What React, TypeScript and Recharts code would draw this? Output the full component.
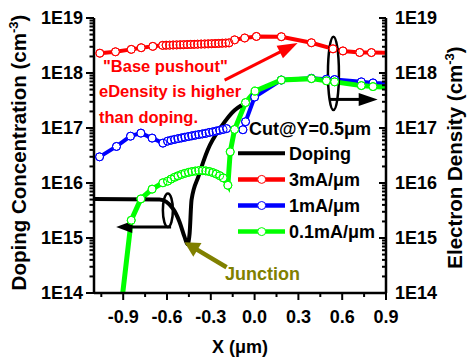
import React from 'react';
import { LineChart, Line, XAxis, YAxis, ReferenceLine, ReferenceDot, Legend } from 'recharts';

const FONT = '"Liberation Sans", Arial, Helvetica, sans-serif';

// ---- axis ticks ----
const xMajor = [-0.9, -0.6, -0.3, 0, 0.3, 0.6, 0.9];
const xMinor = [-1.05, -0.75, -0.45, -0.15, 0.15, 0.45, 0.75];
const xLabels = ['-0.9', '-0.6', '-0.3', '0.0', '0.3', '0.6', '0.9'];
const yDecades = [1e14, 1e15, 1e16, 1e17, 1e18, 1e19];
const yLabels = ['1E14', '1E15', '1E16', '1E17', '1E18', '1E19'];
const yMinorMantissa = [2, 3, 4, 5, 6, 7, 8, 9];

// ---- doping profile along the cut (cm^-3) ----
const xDoping = [-1.1, -0.651, -0.56, -0.514, -0.48, -0.459, -0.445, -0.432, -0.384, -0.322, -0.226, -0.137, -0.089];
const nDoping = [5.1e15, 5.0e15, 3.44e15, 1.96e15, 1.05e15, 7.7e14, 1.22e15, 4.9e15, 1.33e16, 3.95e16, 1.08e17, 2.11e17, 2.6e17];

// ---- electron density at 3 mA/um ----
const x3mA = [
  -1.06, -0.953, -0.845, -0.777, -0.697,
  -0.63, -0.606, -0.582, -0.558, -0.534, -0.51, -0.486, -0.462, -0.438, -0.414,
  -0.39, -0.366, -0.342, -0.318, -0.294, -0.27, -0.246, -0.222, -0.198, -0.175,
  -0.137, -0.068, 0.012, 0.183, 0.389, 0.537, 0.605, 0.72, 0.8, 0.95,
];
const n3mA = [
  2.29e18, 2.43e18, 2.69e18, 2.88e18, 3.05e18,
  3.18e18, 3.2e18, 3.21e18, 3.23e18, 3.24e18, 3.26e18, 3.27e18, 3.29e18, 3.31e18, 3.32e18,
  3.34e18, 3.36e18, 3.37e18, 3.39e18, 3.41e18, 3.43e18, 3.45e18, 3.48e18, 3.5e18, 3.53e18,
  4.0e18, 4.33e18, 4.62e18, 4.57e18, 3.55e18, 2.75e18, 2.52e18, 2.36e18, 2.35e18, 2.32e18,
];

// ---- electron density at 1 mA/um ----
const x1mA = [
  -1.062, -0.946, -0.85, -0.779, -0.702, -0.628,
  -0.596, -0.572, -0.548, -0.525, -0.501, -0.477, -0.453, -0.43, -0.406,
  -0.382, -0.358, -0.334, -0.311, -0.287, -0.263, -0.239, -0.216, -0.192,
  -0.08, -0.062, 0.0, 0.183, 0.389, 0.492, 0.548, 0.731, 0.811, 0.95,
];
const n1mA = [
  2.99e16, 4.62e16, 7.1e16, 8.07e16, 6.55e16, 5.31e16,
  5.77e16, 6.0e16, 6.2e16, 6.4e16, 6.6e16, 6.8e16, 7.0e16, 7.2e16, 7.4e16,
  7.6e16, 7.8e16, 8.0e16, 8.3e16, 8.5e16, 8.8e16, 9.1e16, 9.4e16, 9.75e16,
  9.3e16, 1.3e17, 3.65e17, 7.45e17, 8.0e17, 7.7e17, 7.6e17, 6.9e17, 6.6e17, 6.4e17,
];

// ---- electron density at 0.1 mA/um ----
const x01mA = [
  -0.926, -0.845, -0.779, -0.702, -0.628,
  -0.596, -0.572, -0.548, -0.525, -0.501, -0.477, -0.453, -0.43, -0.406,
  -0.382, -0.358, -0.334, -0.311, -0.287, -0.263, -0.239, -0.215,
  -0.183, -0.167, -0.137, -0.062, 0.004, 0.183, 0.389, 0.492, 0.548, 0.731, 0.811, 0.95,
];
const n01mA = [
  3e13, 2.1e15, 5.14e15, 7.73e15, 1.01e16,
  1.08e16, 1.18e16, 1.27e16, 1.35e16, 1.43e16, 1.5e16, 1.56e16, 1.61e16, 1.65e16,
  1.68e16, 1.68e16, 1.66e16, 1.62e16, 1.55e16, 1.46e16, 1.36e16, 1.24e16,
  9.1e15, 3.69e16, 9.4e16, 2.9e17, 4.69e17, 7.45e17, 7.9e17, 7.2e17, 6.9e17, 5.9e17, 5.66e17, 5.45e17,
];

const seriesNames = ['Doping', '3mA/\u03bcm', '1mA/\u03bcm', '0.1mA/\u03bcm'];
const seriesColors = ['#000000', '#FF0000', '#0000FF', '#00FF00'];
const legendTitle = 'Cut@Y=0.5\u03bcm';

const toPoints = (xs: number[], ys: number[]) => xs.map((x, i) => ({ x, y: ys[i] }));

const dopingData = toPoints(xDoping, nDoping);
const currentSeries = [
  { name: seriesNames[1], color: seriesColors[1], data: toPoints(x3mA, n3mA), width: 4 },
  { name: seriesNames[2], color: seriesColors[2], data: toPoints(x1mA, n1mA), width: 4 },
  { name: seriesNames[3], color: seriesColors[3], data: toPoints(x01mA, n01mA), width: 5 },
];

const xTicks = [...xMajor, ...xMinor].sort((a, b) => a - b);
const yTicks: number[] = [];
yDecades.forEach((d, i) => {
  yTicks.push(d);
  if (i < yDecades.length - 1) yMinorMantissa.forEach((m) => yTicks.push(m * d));
});

const Y_DOMAIN: [number, number] = [1e14, 1e19];
const X_DOMAIN: [number, number] = [-1.1, 0.9];

const isDecade = (v: number) => Math.abs(Math.log10(v) - Math.round(Math.log10(v))) < 1e-6;
const yLabelFor = (v: number) => {
  const i = yDecades.findIndex((d) => Math.abs(Math.log10(d) - Math.log10(v)) < 1e-6);
  return i >= 0 ? yLabels[i] : null;
};
const xLabelFor = (v: number) => {
  const i = xMajor.findIndex((m) => Math.abs(m - v) < 1e-6);
  return i >= 0 ? xLabels[i] : null;
};

const textStyle = { fontFamily: FONT, fontWeight: 700, fill: '#000' } as const;
const tickLine = { stroke: '#000', strokeWidth: 2 };
const axisLine = { stroke: '#000', strokeWidth: 2.5 };

const BottomTick = (p: any) => {
  const v = p.payload.value;
  const label = xLabelFor(v);
  return (
    <g>
      <line x1={p.x} x2={p.x} y1={p.y} y2={p.y + (label ? 7 : 4)} {...tickLine} />
      {label && (
        <text x={p.x} y={p.y + 30} textAnchor="middle" fontSize={18} {...textStyle}>
          {label}
        </text>
      )}
    </g>
  );
};

const TopTick = (p: any) => {
  const v = p.payload.value;
  const major = xLabelFor(v) !== null;
  return <line x1={p.x} x2={p.x} y1={p.y} y2={p.y + (major ? 8 : 4.5)} {...tickLine} />;
};

const LeftTick = (p: any) => {
  const v = p.payload.value;
  const label = yLabelFor(v);
  const major = isDecade(v);
  return (
    <g>
      <line x1={p.x} x2={p.x - (major ? 8 : 4.5)} y1={p.y} y2={p.y} {...tickLine} />
      {label && (
        <text x={p.x - 11} y={p.y + 6} textAnchor="end" fontSize={18} {...textStyle}>
          {label}
        </text>
      )}
    </g>
  );
};

const RightTick = (p: any) => {
  const v = p.payload.value;
  const label = yLabelFor(v);
  const major = isDecade(v);
  return (
    <g>
      <line x1={p.x} x2={p.x - (major ? 7 : 4)} y1={p.y} y2={p.y} {...tickLine} />
      {label && (
        <text x={p.x + 9} y={p.y + 6} textAnchor="start" fontSize={18} {...textStyle}>
          {label}
        </text>
      )}
    </g>
  );
};

const XTitle = (props: any) => {
  const vb = props.viewBox || { x: 94, y: 293, width: 292, height: 69 };
  return (
    <text x={vb.x + vb.width / 2} y={vb.y + 60} textAnchor="middle" fontSize={18} {...textStyle}>
      X ({'\u03bc'}m)
    </text>
  );
};

const rotatedTitle = (main: string, baseX: number, centerY: number) => (
  <text
    x={baseX}
    y={centerY}
    textAnchor="middle"
    fontSize={20.5}
    transform={`rotate(-90 ${baseX} ${centerY})`}
    {...textStyle}
  >
    <tspan>{main} (cm</tspan>
    <tspan fontSize={13} dy={-8}>-3</tspan>
    <tspan dy={8}>)</tspan>
  </text>
);

const LeftTitle = (props: any) => {
  const vb = props.viewBox || { x: 0, y: 18, width: 94, height: 275 };
  return rotatedTitle('Doping Concentration', vb.x + 26, vb.y + vb.height / 2 - 3);
};

const RightTitle = (props: any) => {
  const vb = props.viewBox || { x: 386, y: 18, width: 81, height: 275 };
  return rotatedTitle('Electron Density', vb.x + 76, vb.y + vb.height / 2 + 2);
};

// arrow drawn along a reference segment
const arrowShape = (color: string, width: number, headLen: number, headHalf: number) => (p: any) => {
  const { x1, y1, x2, y2 } = p;
  const dx = x2 - x1;
  const dy = y2 - y1;
  const len = Math.hypot(dx, dy) || 1;
  const ux = dx / len;
  const uy = dy / len;
  const bx = x2 - ux * headLen;
  const by = y2 - uy * headLen;
  const nx = -uy;
  const ny = ux;
  return (
    <g>
      <line x1={x1} y1={y1} x2={bx + ux} y2={by + uy} stroke={color} strokeWidth={width} />
      <polygon
        points={`${x2},${y2} ${bx + nx * headHalf},${by + ny * headHalf} ${bx - nx * headHalf},${by - ny * headHalf}`}
        fill={color}
      />
    </g>
  );
};

const ellipseShape = (rx: number, ry: number) => (p: any) => (
  <ellipse cx={p.cx} cy={p.cy} rx={rx} ry={ry} fill="none" stroke="#000" strokeWidth={2.5} />
);

const noteShape = (p: any) => (
  <text fontSize={16.5} fontFamily={FONT} fontWeight={700} fill="#FF0000">
    <tspan x={p.cx + 4} y={p.cy - 25.6}>"Base pushout"</tspan>
    <tspan x={p.cx} y={p.cy}>eDensity is higher</tspan>
    <tspan x={p.cx} y={p.cy + 26}>than doping.</tspan>
  </text>
);

const junctionShape = (p: any) => (
  <text x={p.cx} y={p.cy} fontSize={18} fontFamily={FONT} fontWeight={700} fill="#808000">
    Junction
  </text>
);

const LegendBox = () => (
  <svg width={160} height={135} style={{ display: 'block', overflow: 'visible' }}>
    <text x={19} y={25} fontSize={18} {...textStyle}>
      {legendTitle}
    </text>
    {seriesNames.map((name, i) => {
      const cy = 43.3 + i * 26.1;
      return (
        <g key={name}>
          <line x1={8} x2={55} y1={cy} y2={cy} stroke={seriesColors[i]} strokeWidth={i === 0 ? 4 : 4.5} />
          {i > 0 && <circle cx={31.7} cy={cy} r={4} fill="#fff" stroke={seriesColors[i]} strokeWidth={1} />}
          <text x={59} y={cy + 6.5} fontSize={18} {...textStyle}>
            {name}
          </text>
        </g>
      );
    })}
  </svg>
);

export default function App() {
  return (
    <div style={{ position: 'absolute', left: 0, top: 0, width: 467, height: 362, background: '#fff' }}>
      <LineChart width={467} height={362} margin={{ top: 18, right: 0, bottom: 0, left: 0 }}>
        <XAxis
          xAxisId="x"
          type="number"
          dataKey="x"
          domain={X_DOMAIN}
          allowDataOverflow
          ticks={xTicks}
          interval={0}
          tickSize={0}
          tickMargin={0}
          tick={BottomTick}
          axisLine={axisLine}
          tickLine={false}
          height={69}
          label={{ content: XTitle }}
        />
        <XAxis
          xAxisId="top"
          orientation="top"
          type="number"
          dataKey="x"
          domain={X_DOMAIN}
          allowDataOverflow
          ticks={xTicks}
          interval={0}
          tickSize={0}
          tickMargin={0}
          tick={TopTick}
          axisLine={axisLine}
          tickLine={false}
          height={0}
        />
        <YAxis
          yAxisId="left"
          type="number"
          scale="log"
          domain={Y_DOMAIN}
          allowDataOverflow
          ticks={yTicks}
          interval={0}
          tickSize={0}
          tickMargin={0}
          tick={LeftTick}
          axisLine={axisLine}
          tickLine={false}
          width={94}
          label={{ content: LeftTitle }}
        />
        <YAxis
          yAxisId="right"
          orientation="right"
          type="number"
          scale="log"
          domain={Y_DOMAIN}
          allowDataOverflow
          ticks={yTicks}
          interval={0}
          tickSize={0}
          tickMargin={0}
          tick={RightTick}
          axisLine={axisLine}
          tickLine={false}
          width={81}
          label={{ content: RightTitle }}
        />

        {currentSeries.map((s) => [
          <Line
            key={`${s.name}-line`}
            xAxisId="x"
            yAxisId="left"
            data={s.data}
            dataKey="y"
            name={s.name}
            type="linear"
            stroke={s.color}
            strokeWidth={s.width}
            dot={{ r: 4, fill: '#fff', stroke: s.color, strokeWidth: 1 }}
            activeDot={false}
            isAnimationActive={false}
          />,
          <Line
            key={`${s.name}-rings`}
            xAxisId="x"
            yAxisId="left"
            data={s.data}
            dataKey="y"
            type="linear"
            stroke="none"
            dot={{ r: 4, fill: 'none', stroke: s.color, strokeWidth: 1 }}
            activeDot={false}
            legendType="none"
            isAnimationActive={false}
          />,
        ])}
        <Line
          xAxisId="x"
          yAxisId="left"
          data={dopingData}
          dataKey="y"
          name={seriesNames[0]}
          type="monotone"
          stroke={seriesColors[0]}
          strokeWidth={4}
          dot={false}
          activeDot={false}
          isAnimationActive={false}
        />

        {/* annotations */}
        <ReferenceDot xAxisId="x" yAxisId="left" x={-1.0657} y={3.6e17} shape={noteShape} />
        <ReferenceLine
          xAxisId="x"
          yAxisId="left"
          segment={[{ x: -0.2055, y: 7.43e17 }, { x: 0.2948, y: 3.51e18 }]}
          shape={arrowShape('#FF0000', 3, 20, 7)}
        />
        <ReferenceDot xAxisId="x" yAxisId="left" x={0.54} y={9.85e17} shape={ellipseShape(5.5, 36.7)} />
        <ReferenceLine
          xAxisId="x"
          yAxisId="left"
          segment={[{ x: 0.514, y: 3.31e17 }, { x: 0.843, y: 3.31e17 }]}
          shape={arrowShape('#000000', 3, 19, 6.5)}
        />
        <ReferenceDot xAxisId="x" yAxisId="left" x={-0.594} y={3.2e15} shape={ellipseShape(5, 16.7)} />
        <ReferenceLine
          xAxisId="x"
          yAxisId="left"
          segment={[{ x: -0.572, y: 1.585e15 }, { x: -0.948, y: 1.585e15 }]}
          shape={arrowShape('#000000', 3, 16, 6)}
        />
        <ReferenceLine
          xAxisId="x"
          yAxisId="left"
          segment={[{ x: -0.192, y: 2.94e14 }, { x: -0.48, y: 8.4e14 }]}
          shape={arrowShape('#808000', 4.5, 15, 8)}
        />
        <ReferenceDot xAxisId="x" yAxisId="left" x={-0.2021} y={1.7e14} shape={junctionShape} />

        <Legend
          layout="vertical"
          align="center"
          verticalAlign="middle"
          content={LegendBox}
          wrapperStyle={{ left: 230, top: 110, width: 160, height: 135, margin: 0, padding: 0, lineHeight: 0 }}
        />
      </LineChart>
    </div>
  );
}
